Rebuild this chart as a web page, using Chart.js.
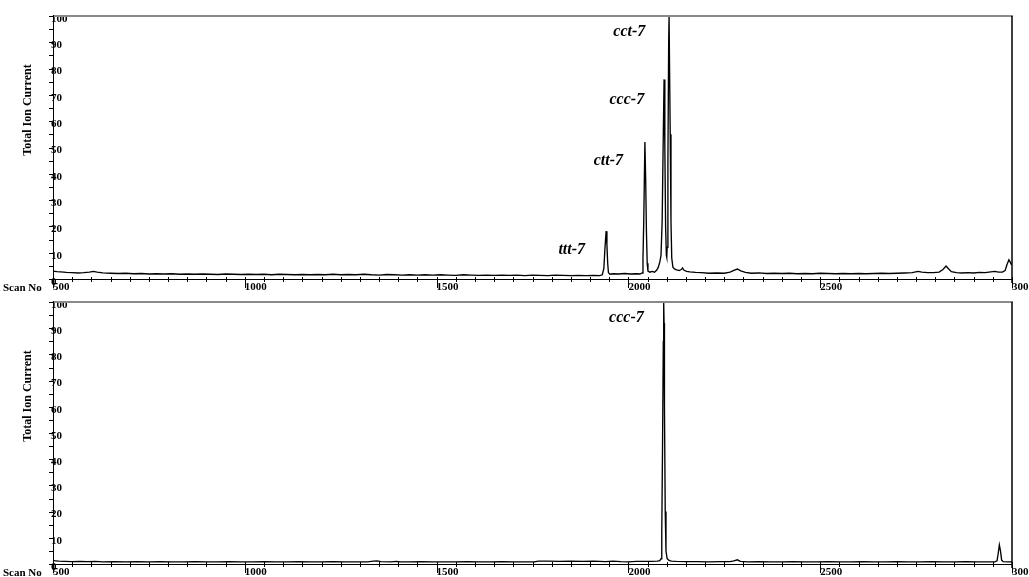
<!DOCTYPE html>
<html><head><meta charset="utf-8">
<script src="https://cdn.jsdelivr.net/npm/chart.js@4.4.0/dist/chart.umd.min.js"></script>
<style>
html,body{margin:0;padding:0;background:#fff;overflow:hidden;width:1029px;height:577px;position:relative;}
canvas{position:absolute;left:0;}
#c1{top:0;}
#c2{top:286px;}
</style></head><body>
<canvas id="c1" width="1060" height="295"></canvas>
<canvas id="c2" width="1060" height="295"></canvas>
<script>
// ---- tick labels ----
const X_TICK_LABELS = [500, 1000, 1500, 2000, 2500, 3000];
const Y_TICK_LABELS = [0, 10, 20, 30, 40, 50, 60, 70, 80, 90, 100];
const X_AXIS_NAME = 'Scan No';
const Y_AXIS_NAME = 'Total Ion Current';

// ---- top chromatogram (scan number, relative TIC %) ----
const SCAN_TOP = [500,510,520,535,550,565,580,595,605,615,630,650,670,690,710,730,750,770,790,810,830,850,870,890,910,930,950,970,990,1010,1030,1050,1070,1090,1110,1130,1150,1170,1190,1210,1230,1250,1270,1290,1310,1330,1350,1370,1390,1410,1430,1450,1470,1490,1510,1530,1550,1570,1590,1610,1630,1650,1670,1690,1710,1730,1750,1770,1790,1810,1830,1850,1870,1890,1910,1925,1932,
1936,1939,1942,1944,1946,1948,1952,1960,1975,1990,2005,2020,2030,2036,
2038,2040,2043,2045,2047,2049,2051,2056,2062,2068,2074,2078,2082,2085,
2088,2091,2093,2095,2097,2099,2100,2101,
2103,2105,2106,2107,2109,2111,2113,2116,2120,2126,2132,2138,2141,2145,2152,2160,2175,2190,2210,2230,2250,2265,2275,2284,2293,2305,2320,2340,2360,2380,2400,2420,2440,2460,2480,2500,2520,2540,2560,2580,2600,2620,2640,2660,2680,2700,2720,2740,2755,2765,2780,2795,2810,2820,2828,2835,2842,2855,2870,2885,2900,2915,2930,2945,2955,2965,2975,2982,2987,2992,2995,2998,3000];
const TIC_TOP = [3.0,2.8,2.7,2.5,2.4,2.3,2.4,2.6,2.9,2.6,2.3,2.2,2.1,2.2,2.0,2.1,1.9,2.0,1.9,2.0,1.8,1.9,1.8,1.9,1.8,1.7,1.9,1.8,1.7,1.8,1.7,1.8,1.6,1.8,1.7,1.6,1.7,1.6,1.7,1.6,1.8,1.6,1.7,1.6,1.8,1.6,1.5,1.7,1.6,1.5,1.6,1.5,1.6,1.5,1.6,1.5,1.4,1.6,1.5,1.4,1.5,1.4,1.5,1.4,1.5,1.3,1.5,1.4,1.3,1.5,1.4,1.3,1.4,1.3,1.4,1.3,1.6,
4.0,12,18.2,13,6,2.4,1.8,2.0,1.9,2.1,1.9,2.0,1.9,2.3,
8,22,52.1,38,18,6,3.0,2.6,2.9,2.6,3.4,4.5,6.5,9,
22,55,75.9,50,20,9,8.3,12,
45,90,100,100,55,22,8,4.5,3.8,3.5,3.2,3.6,4.2,3.3,2.9,2.7,2.5,2.4,2.2,2.3,2.2,2.6,3.3,3.8,3.1,2.5,2.2,2.3,2.1,2.2,2.1,2.2,2.0,2.1,2.0,2.2,2.1,2.0,2.1,2.0,2.1,2.0,2.1,2.2,2.1,2.2,2.3,2.4,2.9,2.6,2.4,2.4,2.6,3.6,4.9,3.8,2.8,2.4,2.3,2.4,2.3,2.5,2.4,2.7,2.9,2.6,2.6,3.2,5.5,7.3,6.5,5.6,5.8];

// ---- bottom chromatogram ----
const SCAN_BOTTOM = [500,515,530,550,570,590,610,630,660,690,720,750,780,810,840,870,900,930,960,990,1020,1050,1080,1110,1140,1170,1200,1230,1260,1290,1320,1335,1345,1355,1380,1395,1405,1430,1460,1490,1520,1550,1580,1610,1640,1670,1700,1730,1755,1765,1790,1820,1850,1880,1910,1940,1960,1980,2000,2020,2040,2060,2075,2082,
2085,2087,2089,2091,2092,2093,2094,2096,2098,2101,2106,2112,2125,2150,2180,2210,2240,2265,2275,2284,2292,2310,2340,2370,2400,2430,2460,2490,2520,2550,2580,2610,2640,2670,2700,2730,2760,2790,2820,2850,2880,2910,2935,2955,2961,2964,2967,2970,2973,2977,2990,3000];
const TIC_BOTTOM = [1.3,1.1,1.0,0.9,1.0,0.9,1.0,0.8,0.9,0.8,0.9,0.8,0.9,0.8,0.8,0.9,0.8,0.8,0.9,0.8,0.8,0.9,0.8,0.8,0.9,0.8,0.8,0.9,0.8,0.8,0.8,1.1,1.2,0.9,0.8,1.0,0.8,0.8,0.9,0.8,0.8,0.8,0.9,0.8,0.8,0.9,0.8,0.8,0.8,1.1,1.1,1.0,1.1,1.0,1.1,0.9,1.1,0.9,0.8,1.0,1.0,1.0,1.1,1.3,
2,12,45,85,100,92,60,20,5,2,1.4,1.1,1.0,0.9,0.9,0.8,0.9,0.9,1.2,1.6,1.0,0.8,0.9,0.8,0.8,0.9,0.8,0.8,0.9,0.8,0.8,0.9,0.8,0.8,0.9,0.8,0.8,0.9,0.8,0.8,0.9,0.8,0.8,0.8,1.2,4,7.3,5,1.5,0.9,0.8,0.8];

// ---- peak annotations (anchored in data coordinates, right-aligned) ----
const PEAK_NAMES_TOP = ['cct-7', 'ccc-7', 'ctt-7', 'ttt-7'];
const PEAK_LABEL_SCAN_TOP = [2044, 2041, 1986, 1887];
const PEAK_LABEL_TIC_TOP = [94, 68, 45, 11];
const PEAK_NAMES_BOTTOM = ['ccc-7'];
const PEAK_LABEL_SCAN_BOTTOM = [2040];
const PEAK_LABEL_TIC_BOTTOM = [94];

const SERIF = '"Liberation Serif", "Times New Roman", serif';

function decorPlugin(names, scans, tics) {
  return {
    id: 'decor',
    afterDraw(chart) {
      const {ctx, chartArea: a, scales: {x, y}} = chart;
      ctx.save();
      // frame
      ctx.lineCap = 'butt';
      ctx.strokeStyle = '#8a8a8a'; ctx.lineWidth = 2;
      ctx.beginPath(); ctx.moveTo(a.left, a.top); ctx.lineTo(a.right + 1, a.top); ctx.stroke();
      ctx.strokeStyle = '#000'; ctx.lineWidth = 1.5;
      ctx.beginPath(); ctx.moveTo(a.right, a.top); ctx.lineTo(a.right, a.bottom + 4); ctx.stroke();
      ctx.lineWidth = 1;
      ctx.beginPath(); ctx.moveTo(a.left + 0.5, a.top - 1); ctx.lineTo(a.left + 0.5, a.bottom); ctx.stroke();
      ctx.beginPath(); ctx.moveTo(a.left, a.bottom + 0.5); ctx.lineTo(a.right, a.bottom + 0.5); ctx.stroke();
      // x tick marks
      x.ticks.forEach(t => {
        const px = Math.round(x.getPixelForValue(t.value)) + 0.5;
        const major = X_TICK_LABELS.includes(t.value);
        ctx.beginPath(); ctx.moveTo(px, a.bottom - 2); ctx.lineTo(px, a.bottom + (major ? 9 : 3)); ctx.stroke();
      });
      // y tick marks
      y.ticks.forEach(t => {
        const py = Math.round(y.getPixelForValue(t.value)) + 0.5;
        ctx.beginPath(); ctx.moveTo(a.left - 4, py); ctx.lineTo(a.left + 1, py); ctx.stroke();
      });
      // axis names
      ctx.fillStyle = '#000';
      ctx.font = 'bold 11px ' + SERIF;
      ctx.textAlign = 'left'; ctx.textBaseline = 'middle';
      ctx.fillText(X_AXIS_NAME, 3, a.bottom + 9);
      ctx.save();
      ctx.translate(28, a.top + 94);
      ctx.rotate(-Math.PI / 2);
      ctx.textAlign = 'center';
      ctx.font = 'bold 12px ' + SERIF;
      ctx.fillText(Y_AXIS_NAME, 0, 0);
      ctx.restore();
      // peak names
      ctx.font = 'italic bold 16px ' + SERIF;
      ctx.textAlign = 'right'; ctx.textBaseline = 'middle';
      names.forEach((n, i) => {
        ctx.fillText(n, x.getPixelForValue(scans[i]), y.getPixelForValue(tics[i]));
      });
      ctx.restore();
    }
  };
}

function makeChart(id, scansArr, ticsArr, names, lScans, lTics, padBottom) {
  const pts = scansArr.map((s, i) => ({x: s, y: ticsArr[i]}));
  return new Chart(document.getElementById(id), {
    type: 'line',
    data: {datasets: [{data: pts, borderColor: '#000', borderWidth: 1.35, pointRadius: 0, tension: 0, fill: false}]},
    options: {
      responsive: false, animation: false, devicePixelRatio: 1,
      layout: {padding: {left: 53, right: 48, top: 16, bottom: padBottom}},
      plugins: {legend: {display: false}, tooltip: {enabled: false}},
      scales: {
        x: {
          type: 'linear', min: 500, max: 3000,
          grid: {display: false, drawTicks: false}, border: {display: false},
          afterFit(s) { s.height = 16; },
          ticks: {
            stepSize: 50, autoSkip: false, maxRotation: 0, align: 'start', padding: 2,
            color: '#000', font: {family: SERIF, weight: 'bold', size: 11},
            callback: v => X_TICK_LABELS.includes(v) ? String(v) : ''
          }
        },
        y: {
          min: 0, max: 100,
          grid: {display: false, drawTicks: false}, border: {display: false},
          afterFit(s) { s.width = 0; },
          ticks: {
            stepSize: 5, autoSkip: false, mirror: true, padding: -2,
            color: '#000', font: {family: SERIF, weight: 'bold', size: 11, lineHeight: 0.55},
            // empty first line shifts each label a little below its tick, as in the source
            callback: v => Y_TICK_LABELS.includes(v) ? ['', String(v)] : ''
          }
        }
      }
    },
    plugins: [decorPlugin(names, lScans, lTics)]
  });
}

makeChart('c1', SCAN_TOP, TIC_TOP, PEAK_NAMES_TOP, PEAK_LABEL_SCAN_TOP, PEAK_LABEL_TIC_TOP, 0);
makeChart('c2', SCAN_BOTTOM, TIC_BOTTOM, PEAK_NAMES_BOTTOM, PEAK_LABEL_SCAN_BOTTOM, PEAK_LABEL_TIC_BOTTOM, 1);
</script>
</body></html>
